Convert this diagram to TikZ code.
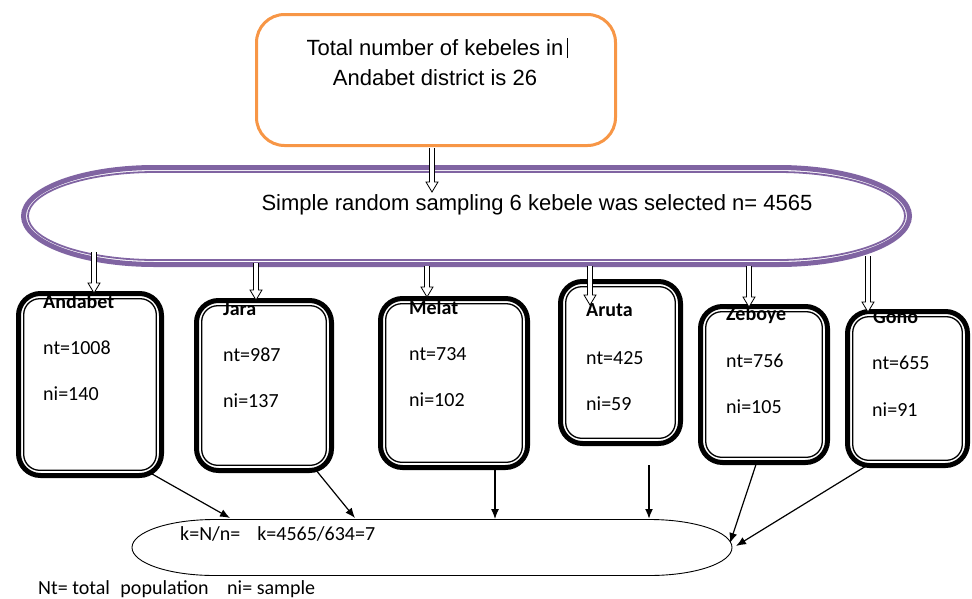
\documentclass[tikz,border=0pt]{standalone}
\usepackage{fontspec}
\setmainfont{Carlito}
\newfontfamily\arialfont{Liberation Sans}
\usetikzlibrary{calc,arrows.meta}

\definecolor{frameorange}{RGB}{247,150,70}
\definecolor{framepurple}{RGB}{128,100,162}

% stadium outline: centre x, centre y, half length of the straight part, end radii x and y
\newcommand\stadiumpath[5]{%
  (#1-#3,#2-#5) -- (#1+#3,#2-#5)
  arc[start angle=-90,end angle=90,x radius=#4,y radius=#5]
  -- (#1-#3,#2+#5)
  arc[start angle=90,end angle=270,x radius=#4,y radius=#5] -- cycle}

% hollow block arrow pointing down from #1 to #2
\newcommand\hollowdown[2]{%
  \draw[hollowarrow] ($(#1)+(-2.5,0)$) -- ($(#2)+(-2.5,-10)$) -- ($(#2)+(-6,-10)$)
    -- (#2) -- ($(#2)+(6,-10)$) -- ($(#2)+(2.5,-10)$) -- ($(#1)+(2.5,0)$);}

\begin{document}
\begin{tikzpicture}[x=1pt,y=-1pt,
  topbox/.style={draw=frameorange,line width=3pt,rounded corners=28pt,
    minimum width=359pt,minimum height=131pt,inner sep=0pt,outer sep=0pt},
  kebele/.style={draw=black,line width=5pt,rounded corners=22pt,inner sep=0pt,outer sep=0pt},
  innerframe/.style={draw=black,line width=1.3pt,rounded corners=16pt},
  boxtitle/.style={anchor=base west,inner sep=0pt,font=\fontsize{20}{24}\selectfont\bfseries},
  boxtext/.style={anchor=base west,inner sep=0pt,font=\fontsize{20}{24}\selectfont},
  arialtext/.style={anchor=base,inner sep=0pt,font=\arialfont\fontsize{22}{26}\selectfont},
  hollowarrow/.style={draw=black,line width=0.8pt,fill=white},
  linkarrow/.style={draw=black,line width=1.2pt,-{Latex[length=10pt,width=8pt]}}
]
\useasboundingbox (0,0) rectangle (972,598);

% district box
\node[topbox] (district) at (436,80) {};
\node[arialtext] (line1) at (435,55) {Total number of kebeles in};
\node[arialtext] (line2) at (435,85) {Andabet district is 26};
\draw[line width=0.8pt] (567,38) -- (567,58);

% selection stadium
\node[minimum width=891pt,minimum height=102pt,inner sep=0pt] (selection) at (466.5,216) {};
\draw[framepurple,line width=5pt] \stadiumpath{466.5}{216}{311.5}{131.5}{48.5};
\draw[framepurple,line width=1.8pt] \stadiumpath{466.5}{216}{311.5}{127}{44};
\node[arialtext] (seltext) at (537,210) {Simple random sampling 6 kebele was selected n= 4565};

% kebele boxes
\node[kebele,minimum width=143pt,minimum height=182pt] (andabet) at (90,384.5) {};
\node[kebele,minimum width=135pt,minimum height=170pt] (jara) at (264,385.5) {};
\node[kebele,minimum width=147pt,minimum height=169pt] (melat) at (454,383) {};
\node[kebele,minimum width=120pt,minimum height=162pt] (aruta) at (620.5,362.5) {};
\node[kebele,minimum width=127pt,minimum height=156pt] (zeboye) at (764,384.5) {};
\node[kebele,minimum width=120pt,minimum height=154pt] (gono) at (907.5,388.5) {};
\foreach \n in {andabet,jara,melat,aruta,zeboye,gono}
  \draw[innerframe] ($(\n.south west)+(5.2,-5.2)$) rectangle ($(\n.north east)+(-5.2,5.2)$);

% box contents
\node[boxtitle] (t1) at (43,308.5) {Andabet};
\node[boxtext] at (43,354.5) {nt=1008};
\node[boxtext] at (43,400.5) {ni=140};
\node[boxtitle] (t2) at (223,315.5) {Jara};
\node[boxtext] at (223,361.5) {nt=987};
\node[boxtext] at (223,407.5) {ni=137};
\node[boxtitle] (t3) at (409,314.5) {Melat};
\node[boxtext] at (409,360.5) {nt=734};
\node[boxtext] at (409,406.5) {ni=102};
\node[boxtitle] (t4) at (586,316.5) {Aruta};
\node[boxtext] at (586,364.5) {nt=425};
\node[boxtext] at (586,410.5) {ni=59};
\node[boxtitle] (t5) at (726,320.5) {Zeboye};
\node[boxtext] at (726,367.5) {nt=756};
\node[boxtext] at (726,413.5) {ni=105};
\node[boxtitle] (t6) at (873,323.5) {Gono};
\node[boxtext] at (872,369.5) {nt=655};
\node[boxtext] at (872,416.5) {ni=91};

% hollow arrows
\coordinate (d0) at (432,148);   \coordinate (e0) at (432,192);
\coordinate (d1) at (94,252);    \coordinate (e1) at (94,293);
\coordinate (d2) at (256,263);   \coordinate (e2) at (256,300);
\coordinate (d3) at (427,266);   \coordinate (e3) at (427,297);
\coordinate (d4) at (590,266);   \coordinate (e4) at (590,305);
\coordinate (d5) at (749,266);   \coordinate (e5) at (749,307);
\coordinate (d6) at (868,256);   \coordinate (e6) at (868,312);
\foreach \i in {0,...,6} {\hollowdown{d\i}{e\i}}

% interval stadium
\node[minimum width=600pt,minimum height=57pt,inner sep=0pt] (interval) at (432,547.5) {};
\draw[line width=0.9pt] \stadiumpath{432}{547.5}{217.5}{82.5}{28};
\node[boxtext] (ktext) at (180,540) {k=N/n=\hspace{17pt}k=4565/634=7};

% links to the interval
\coordinate (k1) at (230,518);
\coordinate (k2) at (355,518);
\coordinate (k3) at (495,519);
\coordinate (k4) at (649,519);
\coordinate (k5) at (730,543);
\coordinate (k6) at (736,546);
\coordinate (s4) at (649,465);
\draw[linkarrow] ($(andabet.south east)+(-12,-3)$) -- (k1);
\draw[linkarrow] ($(jara.south east)+(-16,-1)$) -- (k2);
\draw[linkarrow] (melat.south -| k3) -- (k3);
\draw[linkarrow,line width=1.8pt] (s4) -- (k4);
\draw[linkarrow] ($(zeboye.south)+(-7,-1)$) -- (k5);
\draw[linkarrow] ($(gono.south west)+(21,-1)$) -- (k6);

% key
\node[boxtext] (key) at (38,594.5) {Nt= total\hspace{6pt} population\hspace{14pt} ni= sample};
\end{tikzpicture}
\end{document}
